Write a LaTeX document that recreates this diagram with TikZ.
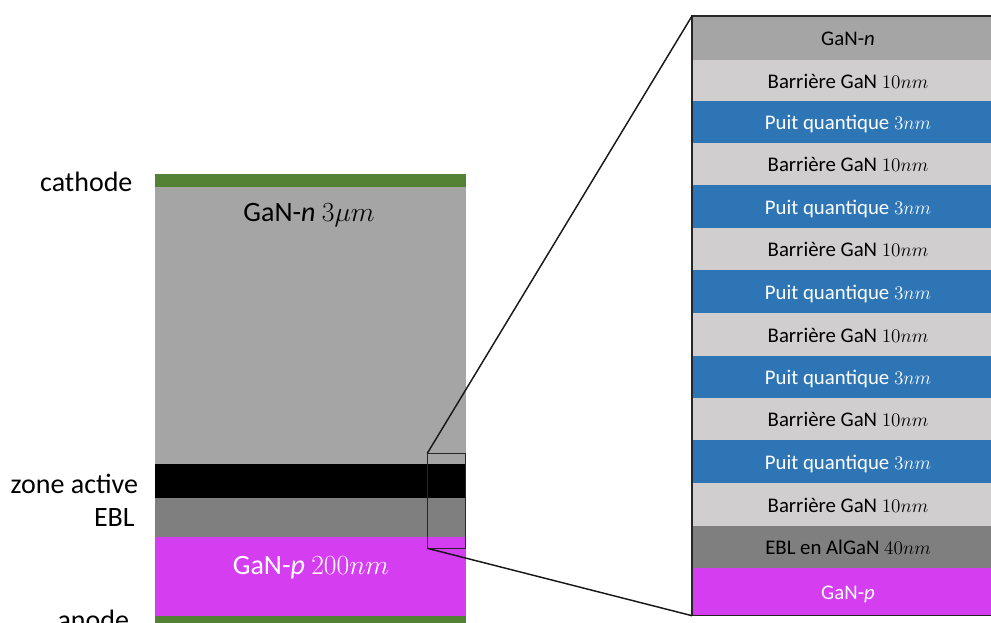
\documentclass[tikz,border=0pt]{standalone}
\usepackage{fontspec}
\setmainfont{Carlito}
\usetikzlibrary{fit}
\definecolor{cgreen}{HTML}{548235}
\definecolor{cgray}{HTML}{A5A5A5}
\definecolor{cdark}{HTML}{7F7F7F}
\definecolor{clight}{HTML}{D0CECE}
\definecolor{cblue}{HTML}{2E75B6}
\definecolor{cmag}{HTML}{D43EF0}
\begin{document}
\begin{tikzpicture}[x=0.75pt,y=-0.75pt,
  layerbox/.style={inner sep=0pt, outer sep=0pt, draw=none},
  bigtxt/.style={font=\fontsize{21}{25}\selectfont, inner sep=0pt, anchor=base},
  smalltxt/.style={font=\fontsize{15.6}{19}\selectfont, inner sep=0pt, anchor=base},
  framebox/.style={draw=black!85, line width=1.1pt, inner sep=0pt, outer sep=0pt},
  zoomline/.style={draw=black!90, line width=1.1pt}
]
\useasboundingbox (0,0) rectangle (991,623);
% left stack
\node[layerbox, fill=cgreen, fit={(155,174)(466,187)}] (cath) {};
\node[layerbox, fill=cgray, fit={(155,187)(466,464)}] (gann) {};
\node[layerbox, fill=black, fit={(155,464)(466,498)}] (active) {};
\node[layerbox, fill=cdark, fit={(155,498)(466,537.3)}] (ebl) {};
\node[layerbox, fill=cmag, fit={(155,537.3)(466,615.7)}] (ganp) {};
\node[layerbox, fill=cgreen, fit={(155,615.7)(466,630)}] (anod) {};
\node[bigtxt] (gannt) at (309,221.7) {GaN-\textit{n} $3\mu m$};
\node[bigtxt, text=white] (ganpt) at (311,574) {GaN-\textit{p} $200nm$};
% left labels
\node[bigtxt, anchor=base east] (lcath) at (132.7,191.7) {cathode};
\node[bigtxt, anchor=base east] (lact) at (138.3,493) {zone active};
\node[bigtxt, anchor=base east] (lebl) at (135,526.7) {EBL};
\node[bigtxt, anchor=base east] (lan) at (129.3,629) {anode};
% right stack
\foreach \nm/\ya/\yb/\col/\tc/\txt in {
  r0/16/60/cgray/black/{GaN-\textit{n}},
  r1/60/101/clight/black/{Barrière GaN $10nm$},
  r2/101/142.7/cblue/white/{Puit quantique $3nm$},
  r3/142.7/185/clight/black/{Barrière GaN $10nm$},
  r4/185/227.7/cblue/white/{Puit quantique $3nm$},
  r5/227.7/270/clight/black/{Barrière GaN $10nm$},
  r6/270/312.7/cblue/white/{Puit quantique $3nm$},
  r7/312.7/356/clight/black/{Barrière GaN $10nm$},
  r8/356/397.7/cblue/white/{Puit quantique $3nm$},
  r9/397.7/440/clight/black/{Barrière GaN $10nm$},
  r10/440/483.3/cblue/white/{Puit quantique $3nm$},
  r11/483.3/525.7/clight/black/{Barrière GaN $10nm$},
  r12/525.7/567.7/cdark/black/{EBL en AlGaN $40nm$},
  r13/567.7/615.7/cmag/white/{GaN-\textit{p}}}{
  \node[layerbox, fill=\col, fit={(692,\ya)(1004,\yb)}] (\nm) {};
  \node[smalltxt, text=\tc] (\nm-t) at (848,{(\ya+\yb)/2+8}) {\txt};
}
\node[framebox, fit={(692,16)(1004,615.7)}] (rframe) {};
% zoom box and lines
\node[framebox, fit={(427.3,453.3)(465.7,548.3)}] (zb) {};
\draw[zoomline] (zb.north west) -- (rframe.north west);
\draw[zoomline] (zb.south west) -- (rframe.south west);
\end{tikzpicture}
\end{document}
